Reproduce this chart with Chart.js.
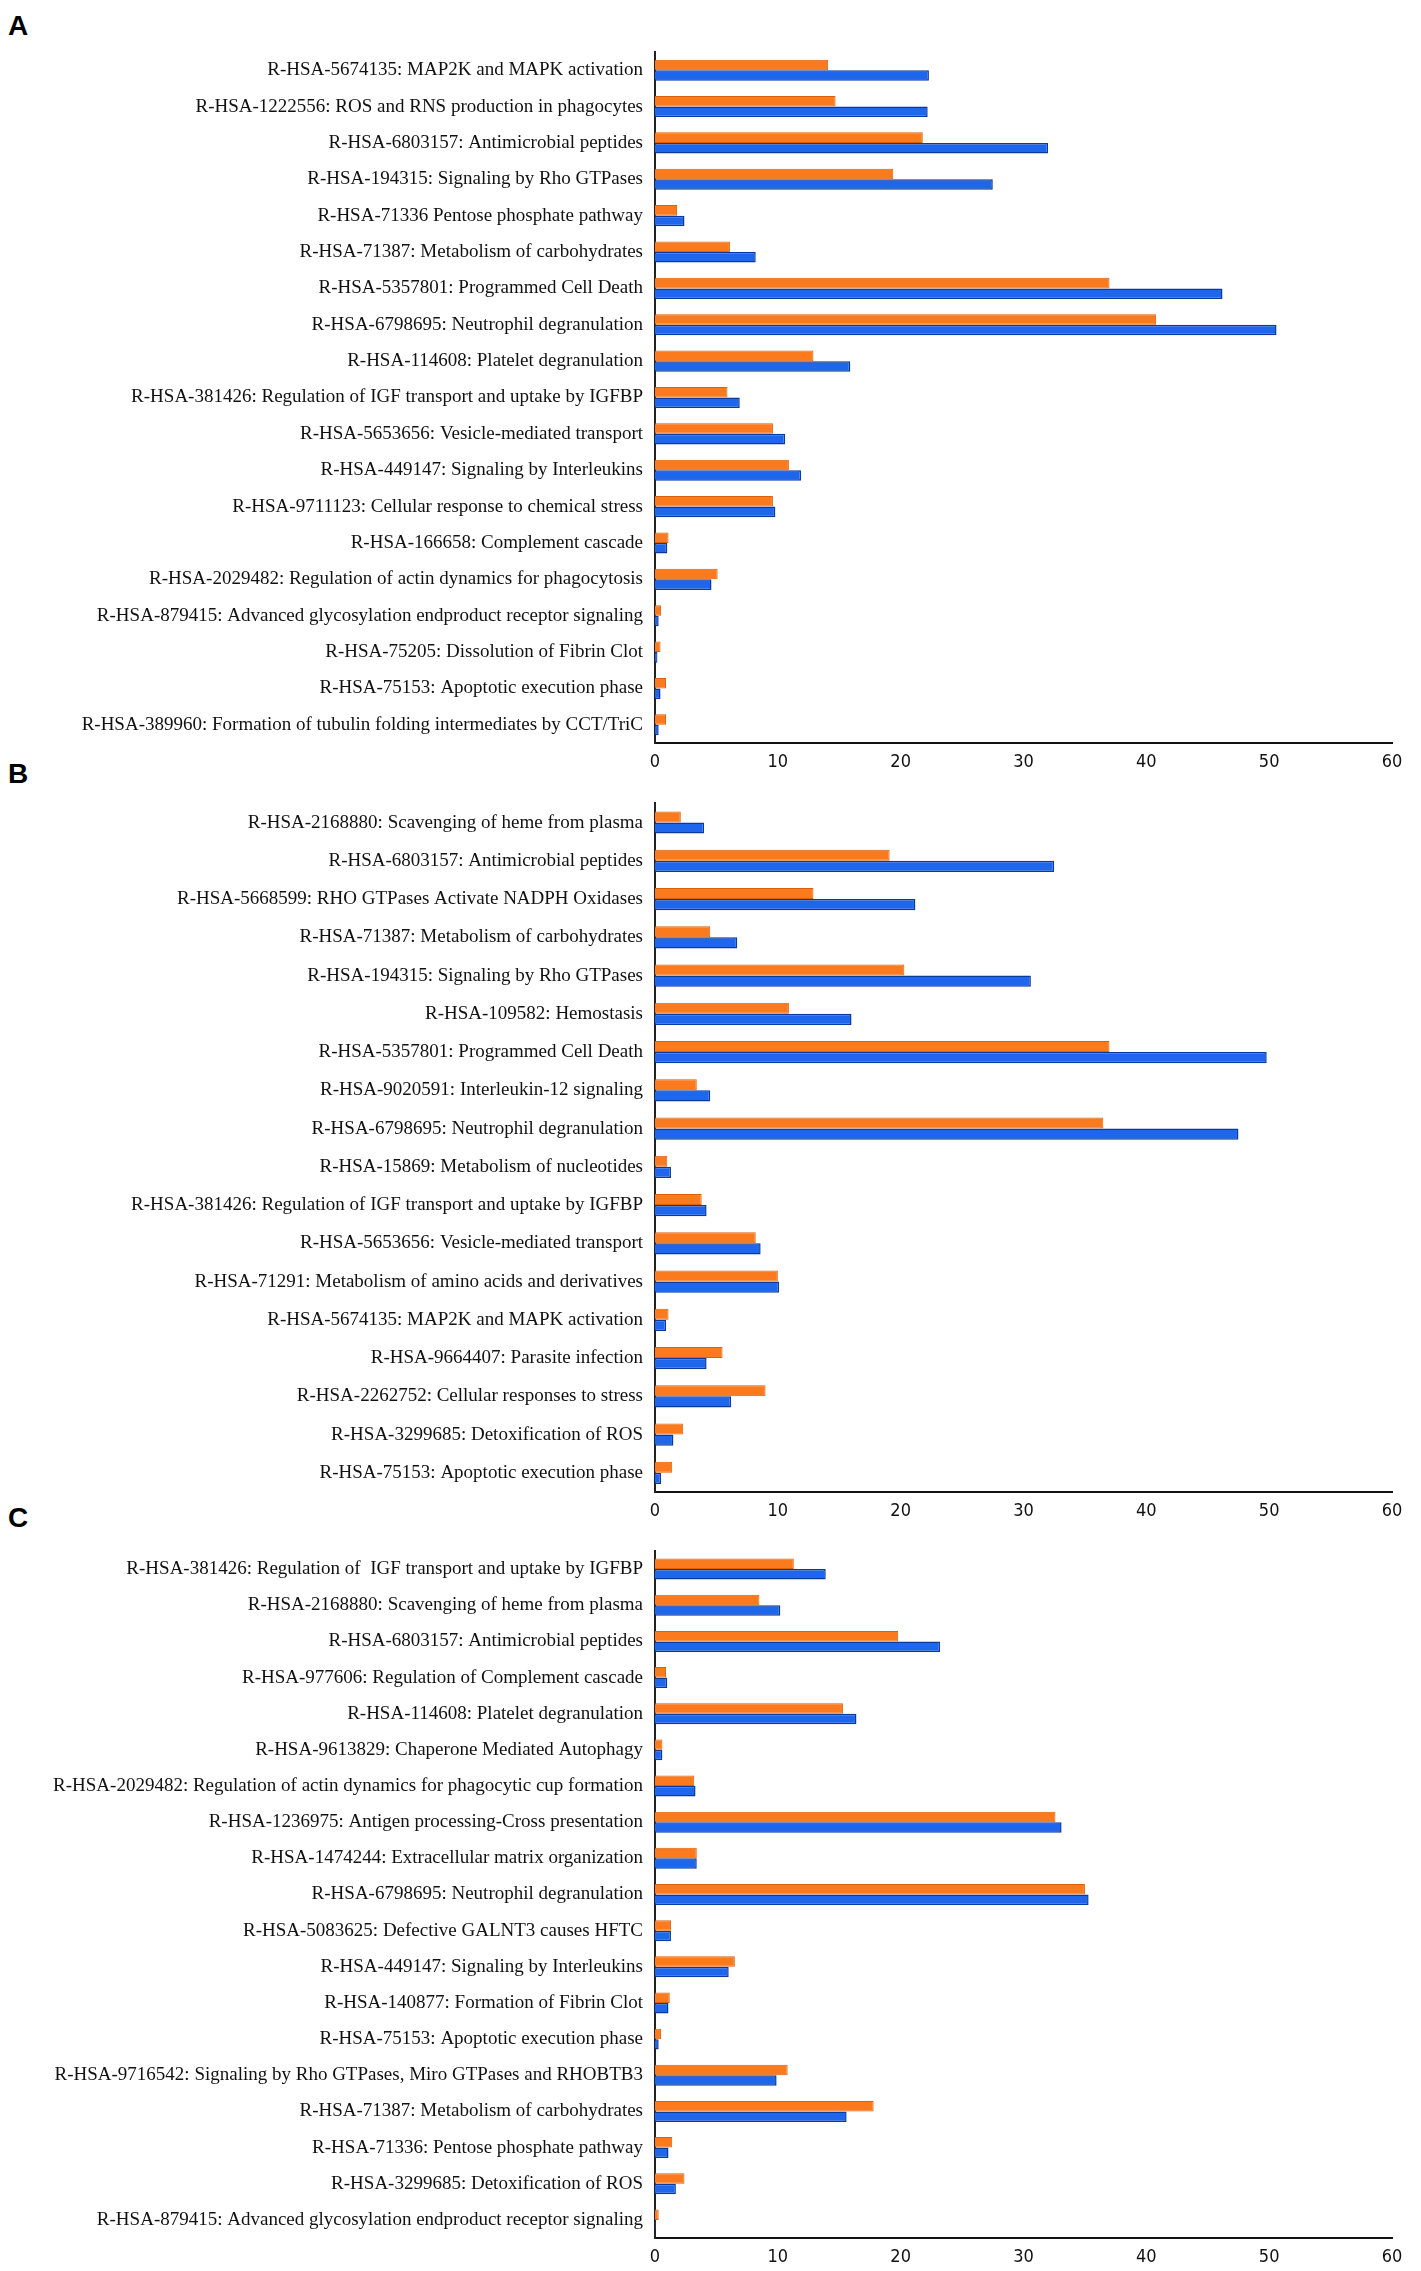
<!DOCTYPE html>
<html lang="en">
<head>
    <meta charset="UTF-8">
    <title>Reactome pathways</title>
    <script src="https://cdn.jsdelivr.net/npm/chart.js"></script>
    <style>
        body { margin: 0; background: #fff; width: 1421px; height: 2271px; position: relative; overflow: hidden; }
        .panel { position: absolute; left: 0; width: 1421px; }
        .tag { position: absolute; left: 8px; font: bold 28px "Liberation Sans", Arial, sans-serif; color: #000; }
    </style>
</head>
<body>

    <div class="tag" style="top: 10px;">A</div>
    <div class="tag" style="top: 758px;">B</div>
    <div class="tag" style="top: 1502px;">C</div>

    <div class="panel" style="top: 0px; height: 780px;"><canvas id="chartA"></canvas></div>
    <div class="panel" style="top: 780px; height: 744px;"><canvas id="chartB"></canvas></div>
    <div class="panel" style="top: 1524px; height: 747px;"><canvas id="chartC"></canvas></div>

    <script>
        const xMin = 0, xMax = 60, xStep = 10;

        const labelsA = [
            "R-HSA-5674135: MAP2K and MAPK activation",
            "R-HSA-1222556: ROS and RNS production in phagocytes",
            "R-HSA-6803157: Antimicrobial peptides",
            "R-HSA-194315: Signaling by Rho GTPases",
            "R-HSA-71336 Pentose phosphate pathway",
            "R-HSA-71387: Metabolism of carbohydrates",
            "R-HSA-5357801: Programmed Cell Death",
            "R-HSA-6798695: Neutrophil degranulation",
            "R-HSA-114608: Platelet degranulation",
            "R-HSA-381426: Regulation of IGF transport and uptake by IGFBP",
            "R-HSA-5653656: Vesicle-mediated transport",
            "R-HSA-449147: Signaling by Interleukins",
            "R-HSA-9711123: Cellular response to chemical stress",
            "R-HSA-166658: Complement cascade",
            "R-HSA-2029482: Regulation of actin dynamics for phagocytosis",
            "R-HSA-879415: Advanced glycosylation endproduct receptor signaling",
            "R-HSA-75205: Dissolution of Fibrin Clot",
            "R-HSA-75153: Apoptotic execution phase",
            "R-HSA-389960: Formation of tubulin folding intermediates by CCT/TriC"
        ];
        const orangeA = [14.1, 14.7, 21.8, 19.4, 1.8, 6.1, 37.0, 40.8, 12.9, 5.9, 9.6, 10.9, 9.6, 1.1, 5.1, 0.5, 0.45, 0.9, 0.9];
        const blueA   = [22.3, 22.2, 32.0, 27.5, 2.4, 8.2, 46.2, 50.6, 15.9, 6.9, 10.6, 11.9, 9.8, 1.0, 4.6, 0.3, 0.2, 0.45, 0.3];

        const labelsB = [
            "R-HSA-2168880: Scavenging of heme from plasma",
            "R-HSA-6803157: Antimicrobial peptides",
            "R-HSA-5668599: RHO GTPases Activate NADPH Oxidases",
            "R-HSA-71387: Metabolism of carbohydrates",
            "R-HSA-194315: Signaling by Rho GTPases",
            "R-HSA-109582: Hemostasis",
            "R-HSA-5357801: Programmed Cell Death",
            "R-HSA-9020591: Interleukin-12 signaling",
            "R-HSA-6798695: Neutrophil degranulation",
            "R-HSA-15869: Metabolism of nucleotides",
            "R-HSA-381426: Regulation of IGF transport and uptake by IGFBP",
            "R-HSA-5653656: Vesicle-mediated transport",
            "R-HSA-71291: Metabolism of amino acids and derivatives",
            "R-HSA-5674135: MAP2K and MAPK activation",
            "R-HSA-9664407: Parasite infection",
            "R-HSA-2262752: Cellular responses to stress",
            "R-HSA-3299685: Detoxification of ROS",
            "R-HSA-75153: Apoptotic execution phase"
        ];
        const orangeB = [2.1, 19.1, 12.9, 4.5, 20.3, 10.9, 37.0, 3.4, 36.5, 1.0, 3.8, 8.2, 10.0, 1.1, 5.5, 9.0, 2.3, 1.4];
        const blueB   = [4.0, 32.5, 21.2, 6.7, 30.6, 16.0, 49.8, 4.5, 47.5, 1.3, 4.2, 8.6, 10.1, 0.9, 4.2, 6.2, 1.5, 0.5];

        const labelsC = [
            "R-HSA-381426: Regulation of  IGF transport and uptake by IGFBP",
            "R-HSA-2168880: Scavenging of heme from plasma",
            "R-HSA-6803157: Antimicrobial peptides",
            "R-HSA-977606: Regulation of Complement cascade",
            "R-HSA-114608: Platelet degranulation",
            "R-HSA-9613829: Chaperone Mediated Autophagy",
            "R-HSA-2029482: Regulation of actin dynamics for phagocytic cup formation",
            "R-HSA-1236975: Antigen processing-Cross presentation",
            "R-HSA-1474244: Extracellular matrix organization",
            "R-HSA-6798695: Neutrophil degranulation",
            "R-HSA-5083625: Defective GALNT3 causes HFTC",
            "R-HSA-449147: Signaling by Interleukins",
            "R-HSA-140877: Formation of Fibrin Clot",
            "R-HSA-75153: Apoptotic execution phase",
            "R-HSA-9716542: Signaling by Rho GTPases, Miro GTPases and RHOBTB3",
            "R-HSA-71387: Metabolism of carbohydrates",
            "R-HSA-71336: Pentose phosphate pathway",
            "R-HSA-3299685: Detoxification of ROS",
            "R-HSA-879415: Advanced glycosylation endproduct receptor signaling"
        ];
        const orangeC = [11.3, 8.5, 19.8, 0.9, 15.3, 0.6, 3.2, 32.6, 3.4, 35.0, 1.3, 6.5, 1.2, 0.5, 10.8, 17.8, 1.4, 2.4, 0.3];
        const blueC   = [13.9, 10.2, 23.2, 1.0, 16.4, 0.6, 3.3, 33.1, 3.4, 35.3, 1.3, 6.0, 1.1, 0.3, 9.9, 15.6, 1.1, 1.7, 0.05];

        const orangeFill = '#FC7A1E', orangeLine = '#D9600C';
        const blueFill = '#1E66EC', blueLine = '#0B3A9E';

        function drawPanel(id, labels, orange, blue, height, padTop, padBottom, xHeight) {
            const canvas = document.getElementById(id);
            canvas.width = 1421;
            canvas.height = height;
            canvas.style.width = '1421px';
            canvas.style.height = height + 'px';

            return new Chart(canvas.getContext('2d'), {
                type: 'bar',
                data: {
                    labels: labels,
                    datasets: [
                        { data: orange, backgroundColor: orangeFill, borderColor: orangeLine, borderWidth: 1,
                          barPercentage: 1.0, categoryPercentage: 0.58 },
                        { data: blue, backgroundColor: blueFill, borderColor: blueLine, borderWidth: 1.5,
                          barPercentage: 1.0, categoryPercentage: 0.58 }
                    ]
                },
                options: {
                    indexAxis: 'y',
                    responsive: false,
                    animation: false,
                    layout: { padding: { top: padTop, bottom: padBottom, right: 29, left: 0 } },
                    plugins: { legend: { display: false }, tooltip: { enabled: false } },
                    scales: {
                        x: {
                            min: xMin, max: xMax,
                            ticks: { stepSize: xStep, color: '#111', padding: 9,
                                     font: { family: '"Liberation Sans Narrow", "DejaVu Sans Condensed", sans-serif', size: 18 } },
                            grid: { display: false, drawTicks: false },
                            border: { display: true, color: '#111', width: 2 },
                            afterFit: s => { s.height = xHeight; }
                        },
                        y: {
                            ticks: { color: '#111', padding: 12,
                                     font: { family: '"Liberation Serif", "Times New Roman", serif', size: 19 } },
                            grid: { display: false, drawTicks: false },
                            border: { display: true, color: '#222', width: 2 },
                            afterFit: s => { s.width = 655; }
                        }
                    }
                }
            });
        }

        drawPanel('chartA', labelsA, orangeA, blueA, 780, 52, 2, 35);
        drawPanel('chartB', labelsB, orangeB, blueB, 744, 19, 0, 32);
        drawPanel('chartC', labelsC, orangeC, blueC, 747, 27, 0, 33);
    </script>

</body>
</html>
